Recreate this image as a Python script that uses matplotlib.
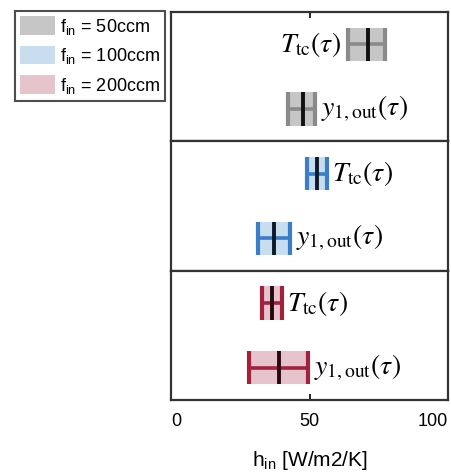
import matplotlib
matplotlib.use("Agg")
import matplotlib.pyplot as plt
from matplotlib.patches import Rectangle, Patch

plt.rcParams['font.family'] = ['Liberation Sans', 'DejaVu Sans']
plt.rcParams['mathtext.fontset'] = 'stix'

# Flow-rate cases (one panel each) and the two estimators per panel
flow_labels = [r'$\mathregular{f_{in}}$ = 50ccm',
               r'$\mathregular{f_{in}}$ = 100ccm',
               r'$\mathregular{f_{in}}$ = 200ccm']
estimators = [r'$T_{\mathrm{tc}}(\tau)$', r'$y_{\mathrm{1,out}}(\tau)$']

# h_in estimates [W/m2/K]: (lower, central, upper) for T_tc and y_1,out
ttc_low = [64.0, 49.0, 32.7]
ttc_mid = [71.0, 52.8, 36.4]
ttc_high = [77.3, 56.2, 40.0]
y1_low = [42.3, 31.5, 28.3]
y1_mid = [47.8, 37.3, 39.0]
y1_high = [52.0, 43.0, 49.6]

x_ticks = [0, 50, 100]
x_label = r'$\mathregular{h_{in}}$ [W/m2/K]'

fills = ['#c6c6c6', '#c8ddf0', '#e5c4cc']
edges = ['#8a8a8a', '#3b7dc6', '#a3213f']
centers = ['#111111', '#0d1a2a', '#2a0710']
label_side = [['left', 'right'], ['right', 'right'], ['right', 'right']]

W, H = 451, 473
fig = plt.figure(figsize=(W / 100, H / 100), dpi=100)

left, right = 171 / W, 448 / W
top, bottom = 1 - 12 / H, 1 - 400 / H
ph = (top - bottom) / 3
box_h = 0.52

axes = []
for i in range(3):
    ax = fig.add_axes([left, top - (i + 1) * ph, right - left, ph])
    axes.append(ax)
    ax.set_xlim(0, 100)
    ax.set_ylim(0.5, 2.5)
    ax.set_yticks([])
    for sp in ax.spines.values():
        sp.set_linewidth(1.6)
        sp.set_color('#333333')
    rows = [(2, ttc_low[i], ttc_mid[i], ttc_high[i]),
            (1, y1_low[i], y1_mid[i], y1_high[i])]
    for k, (yc, lo, mid, hi) in enumerate(rows):
        ax.add_patch(Rectangle((lo, yc - box_h / 2), hi - lo, box_h,
                               facecolor=fills[i], edgecolor='none', zorder=1))
        ax.plot([lo, hi], [yc, yc], color=edges[i], lw=2.6, zorder=2)
        for xe in (lo, hi):
            ax.plot([xe, xe], [yc - box_h / 2, yc + box_h / 2],
                    color=edges[i], lw=3.0, zorder=2, solid_capstyle='butt')
        ax.plot([mid, mid], [yc - box_h / 2, yc + box_h / 2],
                color=centers[i], lw=2.8, zorder=3, solid_capstyle='butt')
        if label_side[i][k] == 'right':
            ax.annotate(estimators[k], xy=(hi, yc), xytext=(4, 0),
                        textcoords='offset points', ha='left', va='center',
                        fontsize=20)
        else:
            ax.annotate(estimators[k], xy=(lo, yc), xytext=(-5, 0),
                        textcoords='offset points', ha='right', va='center',
                        fontsize=20)
    ax.set_xticks(x_ticks)
    ax.tick_params(axis='x', direction='in', length=4, width=1.2,
                   top=(i == 0), bottom=(i == 2),
                   labelbottom=(i == 2), labelsize=13, pad=9)

ax_bot = axes[-1]
tl = ax_bot.get_xticklabels()
tl[0].set_horizontalalignment('left')
tl[-1].set_horizontalalignment('right')
ax_bot.set_xlabel(x_label, fontsize=15, labelpad=14)

handles = [Patch(facecolor=c, edgecolor='none') for c in fills]
leg = fig.legend(handles, flow_labels, loc='upper left',
                 bbox_to_anchor=(15 / W, 1 - 11 / H), fontsize=13,
                 frameon=True, fancybox=False, edgecolor='#222222',
                 handlelength=1.9, handleheight=1.2, handletextpad=0.3,
                 borderpad=0.3, labelspacing=0.5, borderaxespad=0)
leg.get_frame().set_linewidth(1.5)

fig.savefig('out.png', dpi=100)
